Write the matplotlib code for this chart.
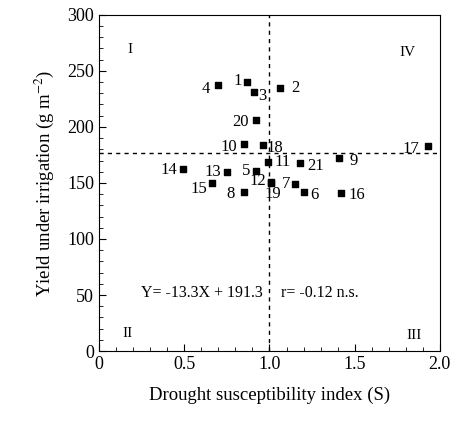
import numpy as np
import matplotlib
matplotlib.use('Agg')
import matplotlib.pyplot as plt
from matplotlib.ticker import MultipleLocator

plt.rcParams['font.family'] = ['Liberation Serif', 'DejaVu Serif']
plt.rcParams['mathtext.fontset'] = 'stix'

# Genotype numbers, drought susceptibility index (S) and yield under irrigation
genotype = [1, 2, 3, 4, 5, 6, 7, 8, 9, 10, 11, 12, 13, 14, 15, 16, 17, 18, 19, 20, 21]
dsi = [0.87, 1.06, 0.91, 0.70, 0.92, 1.20, 1.15, 0.85, 1.41, 0.85, 0.99, 1.01,
       0.75, 0.49, 0.66, 1.42, 1.93, 0.96, 1.01, 0.92, 1.18]
yield_irr = [240, 235, 231, 237, 161, 142, 149, 142, 172, 185, 169, 151,
             160, 162, 150, 141, 183, 184, 150, 206, 168]

# label offsets in pixels (dx, dy), relative to marker
offsets = {1: (-10, 1), 2: (16, 0), 3: (8, -4), 4: (-13, -4), 5: (-10, 0),
           6: (11, -3), 7: (-9, 0), 8: (-13, -2), 9: (14, -3), 10: (-15, -3),
           11: (15, 0), 12: (-13, 1), 13: (-14, 0), 14: (-14, -1), 15: (-13, -6),
           16: (16, -2), 17: (-17, -3), 18: (12, -3), 19: (2, -11), 20: (-15, -2),
           21: (15, -3)}

fig = plt.figure(figsize=(4.63, 4.22), dpi=100)
ax = fig.add_axes([0.214, 0.168, 0.736, 0.797])

mean_yield = np.mean(yield_irr)
ax.axvline(1.0, color='black', lw=1, ls=(0, (3, 3)))
ax.axhline(mean_yield, color='black', lw=1, ls=(0, (3, 3)))

ax.scatter(dsi, yield_irr, marker='s', s=22, color='black', zorder=3)
for g, x, y in zip(genotype, dsi, yield_irr):
    dx, dy = offsets[g]
    ax.annotate(str(g), (x, y), xytext=(dx, dy), textcoords='offset pixels',
                ha='center', va='center', fontsize=12)

ax.text(0.18, 269, 'I', ha='center', va='center', fontsize=11)
ax.text(1.81, 266, 'IV', ha='center', va='center', fontsize=11)
ax.text(0.165, 16, 'II', ha='center', va='center', fontsize=11)
ax.text(1.85, 14, 'III', ha='center', va='center', fontsize=11)
ax.text(0.96, 52, 'Y= -13.3X + 191.3', ha='right', va='center', fontsize=11.5)
ax.text(1.07, 52, 'r= -0.12 n.s.', ha='left', va='center', fontsize=11.5)

ax.set_xlim(0, 2.0)
ax.set_ylim(0, 300)
ax.xaxis.set_major_locator(MultipleLocator(0.5))
ax.xaxis.set_minor_locator(MultipleLocator(0.1))
ax.yaxis.set_major_locator(MultipleLocator(50))
ax.yaxis.set_minor_locator(MultipleLocator(10))
ax.set_xticks([0, 0.5, 1.0, 1.5, 2.0])
ax.set_xticklabels(['0', '0.5', '1.0', '1.5', '2.0'])
ax.tick_params(which='both', direction='in', top=False, right=False, labelsize=13)
ax.tick_params(which='major', length=5)
ax.tick_params(which='minor', length=3)

ax.set_xlabel('Drought susceptibility index (S)', fontsize=13.5, labelpad=10)
ax.set_ylabel('Yield under irrigation (g m$^{-2}$)', fontsize=13.5, labelpad=8)

fig.savefig('out.png', dpi=100)
